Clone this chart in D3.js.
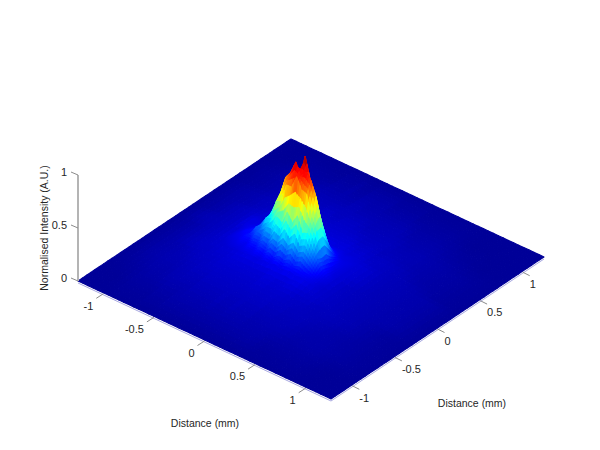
<!DOCTYPE html>
<html><head><meta charset="utf-8">
<script src="https://cdn.jsdelivr.net/npm/d3@7"></script>
<style>html,body{margin:0;background:#fff}svg{display:block}text{font-family:"Liberation Sans",Arial,sans-serif;fill:#262626}</style>
</head><body><svg id="c" width="600" height="450"></svg>
<script>
const uValues=[-1.25,-1.05,-.9,-.8,-.7,-.65,-.6,-.55,-.5,-.45,-.4,-.35,-.3,-.25,-.2,-.15,-.1,-.05,0,.05,.1,.15,.2,.25,.3,.4,.55,.75,1,1.25];
const vValues=[-1.25,-1,-.8,-.6,-.45,-.35,-.25,-.2,-.15,-.1,-.05,0,.05,.1,.15,.2,.25,.35,.45,.6,.8,1,1.25];
const zRows=[
[.01,.01,.01,.01,.01,.01,.01,.01,.01,.01,.01,.01,.01,.01,.01,.01,.01,.01,.01,.01,.01,.01,.01,.01,.01,.01,.01,.01,.01,.01],
[.01,.01,.02,.02,.02,.03,.02,.03,.03,.03,.03,.03,.03,.03,.03,.03,.03,.03,.03,.03,.03,.03,.03,.03,.03,.02,.02,.02,.01,.01],
[.01,.02,.03,.03,.04,.04,.04,.04,.04,.05,.04,.05,.04,.05,.05,.04,.05,.05,.04,.05,.04,.04,.04,.04,.04,.04,.03,.03,.02,.01],
[.01,.03,.04,.04,.05,.05,.06,.05,.06,.06,.06,.06,.06,.06,.06,.06,.06,.06,.06,.06,.06,.05,.06,.05,.05,.05,.04,.03,.02,.01],
[.01,.03,.04,.05,.06,.06,.06,.07,.07,.07,.07,.07,.07,.07,.07,.07,.08,.07,.07,.07,.07,.07,.06,.06,.06,.05,.05,.04,.02,.01],
[.01,.03,.05,.06,.06,.07,.07,.07,.08,.08,.08,.08,.08,.08,.08,.08,.09,.08,.08,.08,.09,.08,.08,.07,.07,.06,.05,.04,.02,.01],
[.01,.03,.05,.06,.07,.07,.08,.08,.09,.09,.10,.10,.09,.11,.10,.12,.10,.11,.12,.10,.11,.10,.09,.08,.07,.06,.05,.04,.03,.01],
[.01,.03,.05,.06,.07,.08,.09,.10,.10,.12,.11,.14,.12,.16,.13,.17,.15,.18,.14,.16,.13,.12,.10,.08,.07,.06,.05,.04,.03,.01],
[.01,.03,.05,.06,.08,.09,.10,.12,.11,.15,.15,.20,.18,.26,.24,.31,.26,.31,.24,.27,.22,.17,.12,.09,.08,.06,.05,.04,.03,.01],
[.01,.03,.05,.06,.08,.10,.11,.14,.15,.21,.20,.30,.30,.44,.40,.53,.45,.54,.40,.42,.29,.22,.14,.10,.08,.06,.05,.04,.03,.01],
[.01,.04,.05,.06,.08,.10,.13,.13,.21,.22,.34,.35,.54,.56,.74,.74,.86,.76,.74,.54,.43,.20,.13,.09,.08,.06,.05,.04,.03,.01],
[.01,.04,.05,.06,.08,.10,.12,.15,.20,.28,.34,.47,.59,.76,.83,.95,.84,.90,.84,.71,.44,.21,.11,.09,.08,.07,.05,.04,.03,.01],
[.01,.04,.05,.06,.09,.10,.11,.13,.17,.21,.28,.33,.44,.51,.60,.75,1.0,.80,.62,.49,.34,.16,.11,.09,.08,.07,.05,.04,.03,.01],
[.01,.03,.05,.06,.09,.09,.10,.11,.12,.15,.17,.21,.25,.29,.33,.35,.37,.36,.32,.28,.20,.13,.10,.09,.08,.07,.05,.04,.03,.01],
[.01,.03,.05,.06,.09,.09,.09,.10,.10,.11,.12,.13,.15,.16,.18,.18,.19,.18,.17,.16,.13,.10,.09,.09,.08,.07,.05,.04,.03,.01],
[.01,.03,.05,.06,.08,.08,.09,.09,.09,.10,.10,.10,.11,.11,.12,.12,.12,.12,.11,.11,.10,.09,.09,.08,.08,.07,.05,.04,.03,.01],
[.01,.03,.05,.06,.07,.08,.08,.08,.09,.09,.09,.09,.09,.09,.10,.09,.10,.10,.09,.09,.09,.08,.08,.08,.07,.06,.05,.04,.02,.01],
[.01,.03,.04,.05,.06,.07,.07,.07,.08,.08,.08,.08,.08,.08,.08,.08,.08,.08,.08,.08,.08,.07,.07,.07,.06,.06,.05,.03,.02,.01],
[.01,.03,.04,.05,.05,.06,.06,.06,.07,.07,.07,.07,.07,.07,.07,.07,.07,.07,.07,.07,.06,.06,.06,.06,.05,.05,.04,.03,.02,.01],
[.01,.02,.03,.04,.05,.05,.05,.05,.06,.05,.06,.06,.06,.05,.06,.06,.06,.06,.05,.05,.05,.05,.05,.05,.05,.04,.04,.03,.02,.01],
[.01,.02,.03,.03,.03,.04,.04,.04,.04,.04,.04,.04,.04,.05,.04,.04,.04,.04,.04,.04,.04,.04,.04,.04,.03,.03,.03,.02,.01,.01],
[.01,.01,.02,.02,.02,.02,.02,.03,.02,.03,.03,.02,.03,.03,.03,.03,.03,.03,.02,.03,.02,.03,.02,.02,.02,.02,.02,.01,.01,.01],
[.01,.01,.01,.01,.01,.01,.01,.01,.01,.01,.01,.01,.01,.01,.01,.01,.01,.01,.01,.01,.01,.01,.01,.01,.01,.01,.01,.01,.01,.01]
];
const planTicks=[-1,-.5,0,.5,1];
const zTicks=[0,.5,1];
const uTitle="Distance (mm)",vTitle="Distance (mm)",zTitle="Normalised Intensity (A.U.)";

const DOMAIN=[-1.25,1.25];
const uX=d3.scaleLinear().domain(DOMAIN).range([78,331]);
const uY=d3.scaleLinear().domain(DOMAIN).range([282,400]);
const vX=d3.scaleLinear().domain(DOMAIN).range([0,213]);
const vY=d3.scaleLinear().domain(DOMAIN).range([0,-142]);
const zY=d3.scaleLinear().domain([0,1]).range([0,-106]);
const px=(u,v)=>uX(u)+vX(v);
const py=(u,v,z)=>uY(u)+vY(v)+zY(z||0);
const jet=d3.scaleLinear()
 .domain([0,.125,.375,.625,.875,1])
 .range(["#00008f","#0000ff","#00ffff","#ffff00","#ff0000","#800000"]).clamp(true);

const svg=d3.select("#c");
// Faces, back to front, with shading subdivided inside each measured cell
const faces=[];
for(let i=0;i<uValues.length-1;i++){
 for(let j=vValues.length-2;j>=0;j--){
  const u0=uValues[i],u1=uValues[i+1],v0=vValues[j],v1=vValues[j+1];
  const fine=(u1-u0)<.06&&(v1-v0)<.06;
  const nu=fine?3:Math.max(1,Math.round((u1-u0)/.05));
  const nv=fine?3:Math.max(1,Math.round((v1-v0)/.05));
  const a=zRows[j][i],b=zRows[j][i+1],c=zRows[j+1][i],d=zRows[j+1][i+1];
  const Z=(s,t)=>a*(1-s)*(1-t)+b*s*(1-t)+c*(1-s)*t+d*s*t;
  for(let p=0;p<nu;p++)for(let q=nv-1;q>=0;q--){
   const s0=p/nu,s1=(p+1)/nu,t0=q/nv,t1=(q+1)/nv;
   const U=s=>u0+(u1-u0)*s,V=t=>v0+(v1-v0)*t;
   const cs=[[s0,t0],[s1,t0],[s1,t1],[s0,t1]];
   const pts=cs.map(([s,t])=>[px(U(s),V(t)),py(U(s),V(t),Z(s,t))]);
   const m=(Z(s0,t0)+Z(s1,t0)+Z(s1,t1)+Z(s0,t1))/4;
   faces.push({pts,col:jet(m)});
  }
 }
}
const line=d3.line();
svg.append("g").selectAll("path").data(faces).join("path")
 .attr("d",f=>line(f.pts)+"Z").attr("fill",f=>f.col).attr("stroke",f=>f.col).attr("stroke-width",1.1).attr("stroke-linejoin","round");

// front edges
const edge=[[DOMAIN[0],DOMAIN[0]],[DOMAIN[1],DOMAIN[0]],[DOMAIN[1],DOMAIN[1]]];
svg.append("path").attr("d",line(edge.map(([u,v])=>[px(u,v),py(u,v)+1]))).attr("fill","none").attr("stroke","#a8a8e0").attr("stroke-width",1);

const axis=svg.append("g");
const grey="#8c8c8c";
// z axis
axis.append("line").attr("x1",78).attr("x2",78).attr("y1",281+zY(1)).attr("y2",281+zY(0)).attr("stroke","#b4b4b4").attr("stroke-width",2);
zTicks.forEach(t=>{
 const y=281+zY(t);
 axis.append("line").attr("x1",78).attr("x2",71).attr("y1",y).attr("y2",y-3).attr("stroke",grey);
 axis.append("text").attr("x",67).attr("y",y-3).attr("dy",".35em").attr("text-anchor","end").attr("font-size",11).text(t);
});
// u axis (front-left edge)
planTicks.forEach(t=>{
 const x=px(t,DOMAIN[0]),y=py(t,DOMAIN[0]);
 axis.append("line").attr("x1",x).attr("y1",y).attr("x2",x-7).attr("y2",y+4.5).attr("stroke",grey);
 axis.append("text").attr("x",x-10).attr("y",y+12).attr("dy",".35em").attr("text-anchor","end").attr("font-size",11).text(t);
});
// v axis (front-right edge)
planTicks.forEach(t=>{
 const x=px(DOMAIN[1],t),y=py(DOMAIN[1],t);
 axis.append("line").attr("x1",x).attr("y1",y).attr("x2",x+7).attr("y2",y+3.5).attr("stroke",grey);
 axis.append("text").attr("x",x+7).attr("y",y+12).attr("dy",".35em").attr("text-anchor","start").attr("font-size",11).text(t);
});
svg.append("text").attr("x",205).attr("y",423).attr("dy",".35em").attr("text-anchor","middle").attr("font-size",10.5).text(uTitle);
svg.append("text").attr("x",472).attr("y",403).attr("dy",".35em").attr("text-anchor","middle").attr("font-size",10.5).text(vTitle);
svg.append("text").attr("transform","translate(44,228) rotate(-90)").attr("dy",".35em").attr("text-anchor","middle").attr("font-size",10.5).text(zTitle);
</script></body></html>
